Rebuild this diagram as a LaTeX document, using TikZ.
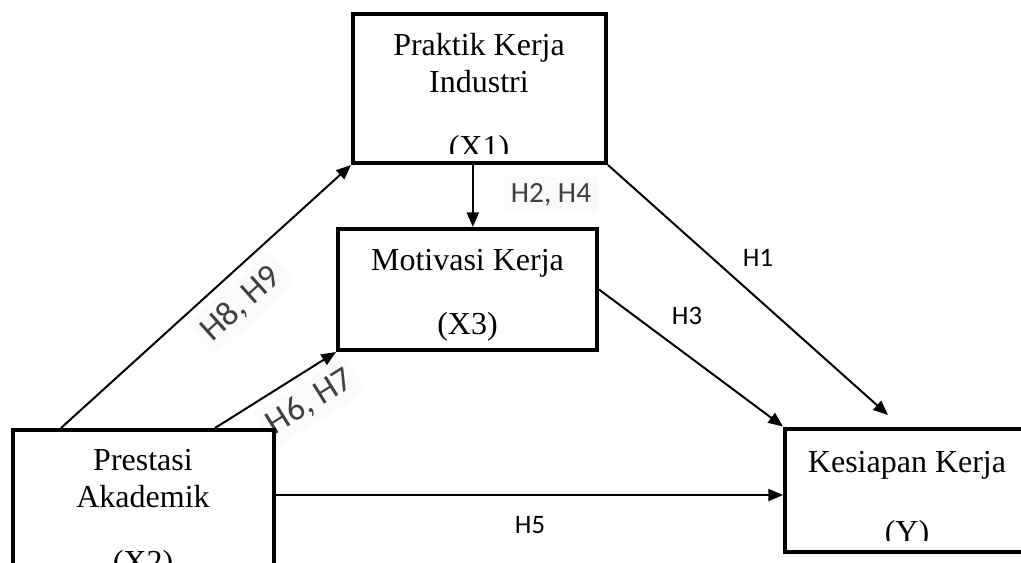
\documentclass[tikz,border=0pt]{standalone}
\usepackage{fontspec}
\setmainfont{Liberation Serif}
\newfontfamily\hypfont{Carlito}
\usetikzlibrary{arrows.meta}
\usetikzlibrary{positioning}

\tikzset{
  varbox/.style={rectangle,draw,line width=3pt,inner sep=0pt},
  vartext/.style={font=\fontsize{24}{28}\selectfont,anchor=base,inner sep=0pt},
  hyp/.style={font=\hypfont\fontsize{20}{24}\selectfont,inner sep=0pt},
  hypbg/.style={hyp,fill=black!2,text=black!75,inner sep=5pt}
}

\begin{document}
\begin{tikzpicture}[x=0.75pt,y=-0.75pt]
			\useasboundingbox (0,0) rectangle (1021,562);
			% hypothesis labels first, the arrows lie on top
			\node[hypbg,font=\hypfont\fontsize{22}{26}\selectfont] (h24) at (551,195) {H2, H4};
			\node[hyp] (h1) at (758,258) {H1};
			\node[hyp] (h3) at (687,316) {H3};
			\node[hyp] (h5) at (530,525) {H5};
			\node[hypbg,font=\hypfont\fontsize{26}{30}\selectfont,rotate=42] (h89) at (241,304) {H8, H9};
			\node[hypbg,font=\hypfont\fontsize{26}{30}\selectfont,rotate=32] (h67) at (310,402) {H6, H7};
			\begin{scope}[every node/.style={varbox}]
				\node[minimum width=189.75pt,minimum height=111.75pt] (x1) at (479.5,88.5) {};
				\node[minimum width=194.25pt,minimum height=90.75pt] (x3) at (467.5,289.5) {};
				\node[minimum width=195.75pt,minimum height=127.5pt] (x2) at (143.5,515) {};
				\node[minimum width=183pt,minimum height=92.25pt] (y) at (907,490) {};
			\end{scope}
			\begin{scope}[every node/.style={vartext}]
				\node (x1a) at (479,55) {Praktik Kerja};
				\node (x1b) at (479,92) {Industri};
				\begin{scope}
					\clip (353,14) rectangle (606,153);
					\node (x1c) at (479,157) {(X1)};
				\end{scope}
				\node (x3a) at (467.5,270) {Motivasi Kerja};
				\node (x3b) at (467.5,334) {(X3)};
				\node (x2a) at (143,470) {Prestasi};
				\node (x2b) at (143,507) {Akademik};
				\node (x2c) at (143,572) {(X2)};
				\node (ya) at (907,472) {Kesiapan Kerja};
				\begin{scope}
					\clip (785,429) rectangle (1021,540);
					\node (yb) at (907,542) {(Y)};
				\end{scope}
			\end{scope}
			\coordinate (yin) at (888,415);
      \begin{scope}[every edge/.style={draw=black,line width=1.5pt,-{Triangle[length=11pt,width=9pt]}}]
        \path ([xshift=4pt]x3.north |- x1.south) edge ([xshift=4pt]x3.north);
				\path ([xshift=37.5pt]x2.north west) edge (x1.south west);
				\path ([xshift=153pt]x2.north west) edge (x3.south west);
				\path ([yshift=15pt]x2.east) edge ([yshift=15pt]x2.east -| y.west);
				\path (x3.east) edge (y.north west);
				\path (x1.south east) edge (yin);
      \end{scope}
    \end{tikzpicture}
\end{document}
